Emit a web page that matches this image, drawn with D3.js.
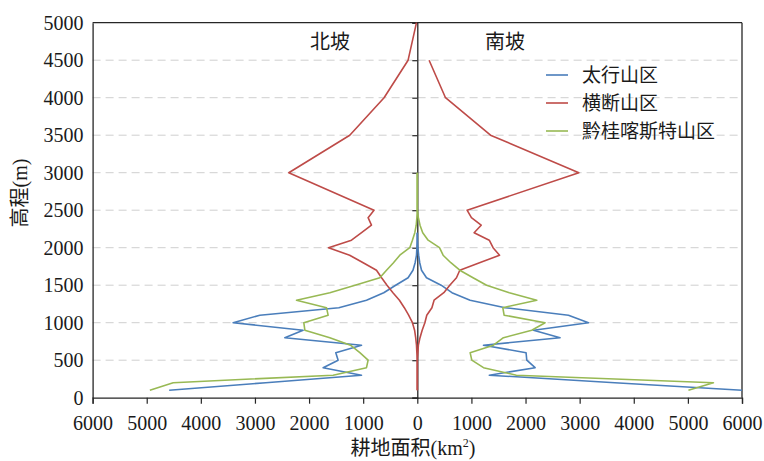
<!DOCTYPE html>
<html><head><meta charset="utf-8">
<script src="https://cdn.jsdelivr.net/npm/d3@7/dist/d3.min.js"></script>
<style>body{margin:0;background:#fff}svg{display:block}</style>
</head><body><svg id="c" width="764" height="461"></svg>
<script>
const xTicks = [-6000,-5000,-4000,-3000,-2000,-1000,0,1000,2000,3000,4000,5000,6000];
const yTicks = [0,500,1000,1500,2000,2500,3000,3500,4000,4500,5000];
const seriesNames = ["太行山区","横断山区","黔桂喀斯特山区"];
const seriesColors = ["#4A7EBB","#BE4B48","#98B954"];

const elevBlue = [100,200,300,400,500,600,700,800,900,1000,1100,1200,1300,1400,1500,1600,1700,1800,1900,2000,2100,2200];
const blueNorth = [4585,2800,1031,1740,1463,1506,1031,2448,2110,3403,2910,1450,939,620,400,170,80,40,15,8,3,0];
const blueSouth = [6000,3650,1330,2177,2023,2010,1223,2638,2147,3163,2793,1622,976,640,440,170,78,45,25,10,4,0];

const elevRed = [100,200,300,400,500,600,700,800,900,1000,1100,1200,1300,1400,1500,1600,1700,1800,1900,2000,2100,2200,2300,2400,2500,3000,3500,4000,4500,5000];
const redNorth = [0,0,0,0,0,8,15,30,50,90,160,240,330,450,560,660,754,1000,1250,1640,1216,1030,847,909,800,2375,1248,614,170,15];
const redSouth = [0,0,0,0,0,10,20,50,90,140,175,270,310,490,600,724,785,1150,1520,1400,1330,1050,1180,1000,920,2985,1353,521,218,null];

const elevGreen = [100,200,300,400,500,600,700,800,900,1000,1100,1200,1300,1400,1500,1600,1700,1800,1900,2000,2100,2200,2300,2400,2500,2600,2700,2800,2900,3000];
const greenNorth = [4942,4511,1556,939,909,1062,1234,1616,2078,2097,1648,1678,2232,1616,1150,693,569,440,323,139,90,46,20,8,0,0,0,0,0,0];
const greenSouth = [5010,5472,1830,1223,1007,976,1407,1592,2115,2361,1604,1580,2208,1700,1280,1030,785,620,477,410,200,100,50,20,0,0,0,0,0,0];

const svg = d3.select("#c");
const L = 92.6, R = 742, T = 22.7, B = 397.7;
const x = d3.scaleLinear().domain([-6000, 6000]).range([L, R]);
const y = d3.scaleLinear().domain([0, 5000]).range([B, T]);
const serif = "'Liberation Serif','Times New Roman','Noto Sans CJK SC',serif";
const cjk = "'Liberation Serif','Noto Sans CJK SC',sans-serif";
const axisColor = "#262626";

// gridlines
svg.append("g").selectAll("line").data(yTicks.filter(d => d > 0 && d < 5000)).join("line")
  .attr("x1", L).attr("x2", R).attr("y1", d => y(d)).attr("y2", d => y(d))
  .attr("stroke", "#cfcfcf").attr("stroke-width", 1).attr("stroke-dasharray", "8,5");

// frame top and right
svg.append("line").attr("x1", L).attr("x2", R).attr("y1", T).attr("y2", T).attr("stroke", axisColor).attr("stroke-width", 1.3);
svg.append("line").attr("x1", R).attr("x2", R).attr("y1", T).attr("y2", B).attr("stroke", axisColor).attr("stroke-width", 1.3);

// left axis
const yAxis = svg.append("g").attr("transform", `translate(${L},0)`)
  .call(d3.axisLeft(y).tickValues(yTicks).tickSize(0).tickPadding(9).tickFormat(d3.format("d")));
yAxis.select(".domain").attr("stroke", axisColor).attr("stroke-width", 1.3);
yAxis.selectAll("text").attr("font-family", serif).attr("font-size", 20).attr("fill", "#1a1a1a");

// bottom axis
const xAxis = svg.append("g").attr("transform", `translate(0,${B})`)
  .call(d3.axisBottom(x).tickValues(xTicks).tickSize(6).tickPadding(12).tickFormat(d => Math.abs(d)));
xAxis.select(".domain").attr("stroke", axisColor).attr("stroke-width", 1.3);
xAxis.selectAll("line").attr("stroke", axisColor).attr("stroke-width", 1.2);
xAxis.selectAll("text").attr("font-family", serif).attr("font-size", 20).attr("fill", "#1a1a1a");

// center axis
const cAxis = svg.append("g").attr("transform", `translate(${x(0)},0)`)
  .call(d3.axisLeft(y).tickValues(yTicks).tickSize(5).tickFormat(""));
cAxis.select(".domain").attr("stroke", axisColor).attr("stroke-width", 1.3);
cAxis.selectAll("line").attr("stroke", axisColor).attr("stroke-width", 1.2);

// series
const series = [
  {elev: elevBlue, north: blueNorth, south: blueSouth, color: seriesColors[0]},
  {elev: elevRed, north: redNorth, south: redSouth, color: seriesColors[1]},
  {elev: elevGreen, north: greenNorth, south: greenSouth, color: seriesColors[2]}
];
const lineGen = d3.line().defined(d => d[0] != null).x(d => x(d[0])).y(d => y(d[1]));
series.forEach(s => {
  const n = s.elev.map((e, i) => [s.north[i] == null ? null : -s.north[i], e]);
  const so = s.elev.map((e, i) => [s.south[i] == null ? null : s.south[i], e]);
  [n, so].forEach(pts => {
    svg.append("path").attr("d", lineGen(pts)).attr("fill", "none")
      .attr("stroke", s.color).attr("stroke-width", 1.6).attr("stroke-linejoin", "round");
  });
});

// side labels
svg.append("text").attr("x", 330).attr("y", 49).attr("text-anchor", "middle")
  .attr("font-family", cjk).attr("font-size", 20).attr("fill", "#1a1a1a").text("北坡");
svg.append("text").attr("x", 505).attr("y", 49).attr("text-anchor", "middle")
  .attr("font-family", cjk).attr("font-size", 20).attr("fill", "#1a1a1a").text("南坡");

// legend
const lg = svg.append("g");
seriesNames.forEach((name, i) => {
  const yy = 75 + i * 28;
  lg.append("line").attr("x1", 546).attr("x2", 568).attr("y1", yy).attr("y2", yy)
    .attr("stroke", seriesColors[i]).attr("stroke-width", 1.6);
  lg.append("text").attr("x", 582).attr("y", yy + 7).attr("font-family", cjk)
    .attr("font-size", 19).attr("fill", "#1a1a1a").text(name);
});

// axis titles
svg.append("text").attr("x", 413).attr("y", 455).attr("text-anchor", "middle")
  .attr("font-family", cjk).attr("font-size", 20).attr("fill", "#1a1a1a")
  .html('耕地面积(km<tspan dy="-8" font-size="12">2</tspan><tspan dy="8">)</tspan>');
svg.append("text").attr("transform", "translate(27,193) rotate(-90)").attr("text-anchor", "middle")
  .attr("font-family", cjk).attr("font-size", 20).attr("fill", "#1a1a1a").text("高程(m)");
</script></body></html>
